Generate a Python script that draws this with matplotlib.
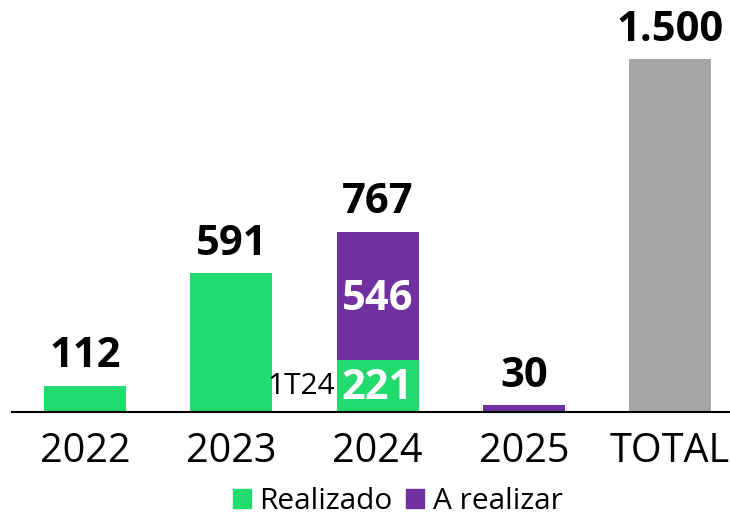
import matplotlib.pyplot as plt
from matplotlib.patches import Patch

plt.rcParams['font.family'] = ['Open Sans', 'DejaVu Sans']

categorias = ['2022', '2023', '2024', '2025', 'TOTAL']
realizado = [112, 591, 221, 0, 0]
a_realizar = [0, 0, 546, 30, 0]
total = [0, 0, 0, 0, 1500]
rotulo_topo = ['112', '591', '767', '30', '1.500']

verde = '#21DB6F'
roxo = '#7030A0'
cinza = '#A6A6A6'

fig = plt.figure(figsize=(7.3, 5.22), dpi=100)
ax = fig.add_axes([12 / 730, 110 / 522, 1 - 12 / 730, 412 / 522])

x = range(len(categorias))
w = 0.56
ax.bar(x, realizado, width=w, color=verde)
ax.bar(x, a_realizar, width=w, bottom=realizado, color=roxo)
ax.bar(x, total, width=w, color=cinza)

# rotulos acima das barras
for i in x:
    topo = realizado[i] + a_realizar[i] + total[i]
    ax.annotate(rotulo_topo[i], (i, topo), xytext=(0, 6), textcoords='offset points',
                ha='center', va='bottom', fontsize=30, fontweight='bold')

# rotulos dentro da barra de 2024
ax.text(2, realizado[2] / 2 - 10, str(realizado[2]), ha='center', va='center',
        color='white', fontsize=30, fontweight='bold')
ax.text(2, realizado[2] + a_realizar[2] / 2 - 15, str(a_realizar[2]), ha='center', va='center',
        color='white', fontsize=30, fontweight='bold')
ax.text(2 - w / 2 - 0.01, realizado[2] / 2 - 2, '1T24', ha='right', va='center', fontsize=21.5)

ax.set_xlim(-0.5, 4.41)
ax.set_ylim(0, 1751)
ax.set_xticks(list(x))
ax.set_xticklabels(categorias, fontsize=28.5)
ax.tick_params(axis='x', length=0, pad=14)
ax.set_yticks([])
for s in ['top', 'right', 'left']:
    ax.spines[s].set_visible(False)
ax.spines['bottom'].set_linewidth(1.5)

handles = [Patch(color=verde, label='Realizado'), Patch(color=roxo, label='A realizar')]
fig.legend(handles=handles, loc='lower center', bbox_to_anchor=(0.545, -0.04), ncol=2,
           frameon=False, fontsize=21.5, handlelength=0.6, handleheight=0.6,
           handletextpad=0.3, columnspacing=0.45)

fig.savefig('out.png', dpi=100)
